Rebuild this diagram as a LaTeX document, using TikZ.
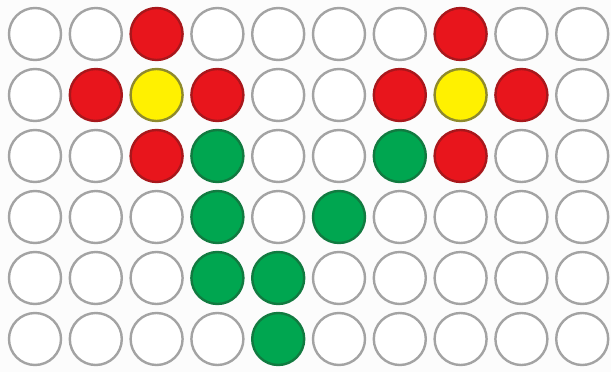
\documentclass[tikz,border=0pt]{standalone}
\definecolor{ringgray}{HTML}{A3A3A3}
\definecolor{dotred}{HTML}{E8151C}
\definecolor{dotredline}{HTML}{A8171B}
\definecolor{dotyellow}{HTML}{FFF100}
\definecolor{dotyellowline}{HTML}{8F8A2C}
\definecolor{dotgreen}{HTML}{00A650}
\definecolor{dotgreenline}{HTML}{117A40}
\definecolor{bgwhite}{HTML}{FCFCFC}
\begin{document}
\begin{tikzpicture}[x=1pt,y=-1pt,
  dot/.style={circle,minimum size=52pt,inner sep=0pt,line width=2.4pt,draw=ringgray,fill=white},
  reddot/.style={dot,draw=dotredline,fill=dotred},
  yellowdot/.style={dot,draw=dotyellowline,fill=dotyellow},
  greendot/.style={dot,draw=dotgreenline,fill=dotgreen}]
\fill[bgwhite] (0,0) rectangle (611,372);
\useasboundingbox (0,0) rectangle (611,372);
\foreach \r in {0,...,5}{
  \foreach \c in {0,...,9}{
    \def\st{dot}
    \ifnum\r=0 \ifnum\c=2 \def\st{reddot}\fi \ifnum\c=7 \def\st{reddot}\fi\fi
    \ifnum\r=1
      \ifnum\c=1 \def\st{reddot}\fi \ifnum\c=2 \def\st{yellowdot}\fi \ifnum\c=3 \def\st{reddot}\fi
      \ifnum\c=6 \def\st{reddot}\fi \ifnum\c=7 \def\st{yellowdot}\fi \ifnum\c=8 \def\st{reddot}\fi
    \fi
    \ifnum\r=2
      \ifnum\c=2 \def\st{reddot}\fi \ifnum\c=3 \def\st{greendot}\fi
      \ifnum\c=6 \def\st{greendot}\fi \ifnum\c=7 \def\st{reddot}\fi
    \fi
    \ifnum\r=3 \ifnum\c=3 \def\st{greendot}\fi \ifnum\c=5 \def\st{greendot}\fi\fi
    \ifnum\r=4 \ifnum\c=3 \def\st{greendot}\fi \ifnum\c=4 \def\st{greendot}\fi\fi
    \ifnum\r=5 \ifnum\c=4 \def\st{greendot}\fi\fi
    \node[\st] (c-\r-\c) at ({35+60.8*\c},{34+61*\r}) {};
  }
}
\end{tikzpicture}
\end{document}
